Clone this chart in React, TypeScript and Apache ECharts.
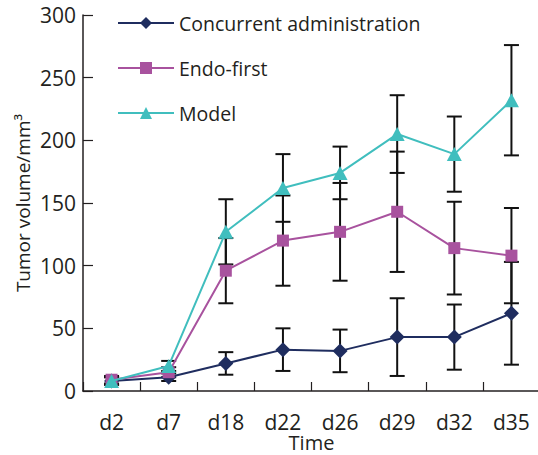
import React, { useEffect, useRef } from "react";
import * as echarts from "echarts";

const categories = ["d2", "d7", "d18", "d22", "d26", "d29", "d32", "d35"];
const concurrentMean = [8, 11, 22, 33, 32, 43, 43, 62];
const concurrentErr = [3, 3, 9, 17, 17, 31, 26, 41];
const endoMean = [9, 15, 96, 120, 127, 143, 114, 108];
const endoErr = [3, 4, 26, 36, 39, 48, 37, 38];
const modelMean = [8, 20, 127, 162, 174, 205, 189, 232];
const modelErr = [3, 4, 26, 27, 21, 31, 30, 44];
const yTicks = [0, 50, 100, 150, 200, 250, 300];

const FONT = "Open Sans";
const TEXT = "#231f20";

function errData(mean: number[], err: number[]) {
  return mean.map((m, i) => [i, m - err[i], m + err[i]]);
}

export default function App() {
  const ref = useRef<HTMLDivElement>(null);
  useEffect(() => {
    if (!ref.current) return;
    const chart = echarts.init(ref.current, null, { renderer: "svg" });
    const errorSeries = (name: string, mean: number[], err: number[]) => ({
      type: "custom",
      id: name,
      z: 1,
      silent: true,
      data: errData(mean, err),
      renderItem: (params: any, api: any) => {
        const idx = api.value(0);
        const lo = api.coord([idx, api.value(1)]);
        const hi = api.coord([idx, api.value(2)]);
        const hw = 7.5;
        const style = { stroke: "#111111", lineWidth: 2 };
        return {
          type: "group",
          children: [
            { type: "line", shape: { x1: lo[0], y1: lo[1], x2: hi[0], y2: hi[1] }, style },
            { type: "line", shape: { x1: hi[0] - hw, y1: hi[1], x2: hi[0] + hw, y2: hi[1] }, style },
            { type: "line", shape: { x1: lo[0] - hw, y1: lo[1], x2: lo[0] + hw, y2: lo[1] }, style },
          ],
        };
      },
    });
    chart.setOption({
      animation: false,
      textStyle: { fontFamily: FONT },
      grid: {
        left: 83,
        top: 15,
        width: 457,
        height: 376,
        containLabel: false,
        outerBoundsMode: "none",
      },
      legend: {
        orient: "vertical",
        left: 112,
        top: 8,
        itemWidth: 56,
        itemHeight: 15,
        itemGap: 25,
        data: ["Concurrent administration", "Endo-first", "Model"],
        textStyle: { fontFamily: FONT, fontSize: 19.5, color: TEXT },
      },
      xAxis: {
        type: "category",
        data: categories,
        boundaryGap: true,
        name: "Time",
        nameLocation: "middle",
        nameGap: 41,
        nameMoveOverlap: false,
        nameTextStyle: { fontFamily: FONT, fontSize: 20, lineHeight: 20, color: TEXT },
        axisLine: { lineStyle: { color: "#231f20", width: 1.5 } },
        axisTick: { show: true, inside: true, length: 9, lineStyle: { color: "#231f20", width: 1.2 } },
        axisLabel: { margin: 20, fontFamily: FONT, fontSize: 21, color: TEXT },
        splitLine: { show: false },
      },
      yAxis: {
        type: "value",
        min: yTicks[0],
        max: yTicks[yTicks.length - 1],
        interval: 50,
        name: "Tumor volume/mm³",
        nameLocation: "middle",
        nameGap: 51,
        nameMoveOverlap: false,
        nameTextStyle: { fontFamily: FONT, fontSize: 19, color: TEXT },
        axisLine: { show: true, lineStyle: { color: "#231f20", width: 1.5 } },
        axisTick: { show: true, inside: true, length: 10, lineStyle: { color: "#231f20", width: 1.2 } },
        axisLabel: { margin: 7, fontFamily: FONT, fontSize: 21, color: TEXT },
        splitLine: { show: false },
      },
      series: [
        errorSeries("errC", concurrentMean, concurrentErr),
        errorSeries("errE", endoMean, endoErr),
        errorSeries("errM", modelMean, modelErr),
        {
          type: "line",
          name: "Concurrent administration",
          data: concurrentMean,
          z: 3,
          symbol: "diamond",
          symbolSize: 15,
          itemStyle: { color: "#1f2d5f" },
          lineStyle: { color: "#1f2d5f", width: 2 },
        },
        {
          type: "line",
          name: "Endo-first",
          data: endoMean,
          z: 3,
          symbol: "rect",
          symbolSize: 12,
          itemStyle: { color: "#a8529e" },
          lineStyle: { color: "#a8529e", width: 2 },
        },
        {
          type: "line",
          name: "Model",
          data: modelMean,
          z: 4,
          symbol: "triangle",
          symbolSize: [15, 14],
          itemStyle: { color: "#40bebe" },
          lineStyle: { color: "#40bebe", width: 2 },
        },
      ],
    });
    return () => chart.dispose();
  }, []);
  return (
    <div
      ref={ref}
      style={{ position: "fixed", left: 0, top: 0, width: 538, height: 455, background: "#ffffff" }}
    />
  );
}
